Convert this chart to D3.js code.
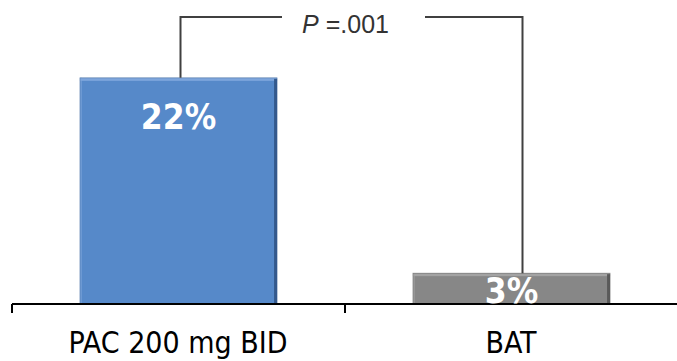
<!DOCTYPE html>
<html>
<head>
<meta charset="utf-8">
<script src="https://cdn.jsdelivr.net/npm/d3@7"></script>
<style>
  html, body { margin: 0; padding: 0; background: #fff; }
  svg { display: block; }
</style>
</head>
<body>
<svg id="chart" width="677" height="361"></svg>
<script>
// Response rates by treatment arm
const categories = ["PAC 200 mg BID", "BAT"];
const values = [22, 3];
const valueLabels = ["22%", "3%"];
const pLabel = "=.001";

const svg = d3.select("#chart");
const W = 677, H = 361;
const baseY = 304;
const labelFont = "'DejaVu Sans Condensed', Lato, 'DejaVu Sans', sans-serif";

const x = d3.scaleBand().domain(categories).range([12, 678]).paddingInner(0).paddingOuter(0);
const y = d3.scaleLinear().domain([0, 25]).range([baseY, baseY - 25 * 10.28]);

const barFrac = 0.592;
const barW = x.bandwidth() * barFrac;
const barX = d => x(d) + (x.bandwidth() - barW) / 2;

const fills = ["#5689c9", "#878787"];
const lights = ["#7ea6dc", "#a3a3a3"];
const darks = ["#34598c", "#5a5a5a"];

const bars = svg.append("g").selectAll("g").data(categories).join("g");

bars.each(function (c, i) {
  const g = d3.select(this);
  const x0 = barX(c), y0 = y(values[i]), h = baseY - y0;
  g.append("rect").attr("x", x0).attr("y", y0).attr("width", barW).attr("height", h)
    .attr("fill", fills[i]);
  // bevel: light top and left edges, dark right edge
  g.append("rect").attr("x", x0).attr("y", y0).attr("width", barW).attr("height", 3)
    .attr("fill", lights[i]);
  g.append("rect").attr("x", x0).attr("y", y0).attr("width", 2).attr("height", h)
    .attr("fill", lights[i]).attr("opacity", 0.6);
  g.append("rect").attr("x", x0 + barW - 3).attr("y", y0 + 1).attr("width", 3).attr("height", h - 1)
    .attr("fill", darks[i]);
  g.append("rect").attr("x", x0).attr("y", y0).attr("width", barW).attr("height", h)
    .attr("fill", "none").attr("stroke", darks[i]).attr("stroke-opacity", 0.5).attr("stroke-width", 0.8);
});

// Category axis along the baseline
const axis = svg.append("g").attr("transform", `translate(0,${baseY})`);
axis.append("line").attr("x1", 12).attr("x2", W).attr("y1", 0).attr("y2", 0)
  .attr("stroke", "#000").attr("stroke-width", 2);
axis.selectAll("line.tick").data(categories).join("line").attr("class", "tick")
  .attr("x1", d => x(d)).attr("x2", d => x(d)).attr("y1", 0).attr("y2", 9)
  .attr("stroke", "#000").attr("stroke-width", 2);
axis.selectAll("text").data(categories).join("text")
  .attr("x", d => x(d) + x.bandwidth() / 2 - 0.5)
  .attr("y", 49)
  .attr("text-anchor", "middle")
  .attr("font-family", labelFont)
  .attr("font-size", 30)
  .attr("fill", "#000")
  .text(d => d);

// Value labels
svg.append("g").selectAll("text").data(categories).join("text")
  .attr("x", d => x(d) + x.bandwidth() / 2)
  .attr("y", (d, i) => i === 0 ? y(values[i]) + 51 : baseY - 1)
  .attr("text-anchor", "middle")
  .attr("font-family", labelFont)
  .attr("font-weight", "bold")
  .attr("font-size", 35)
  .attr("fill", "#fff")
  .text((d, i) => valueLabels[i]);

// Significance bracket
const bx1 = x(categories[0]) + x.bandwidth() / 2 + 2;
const bx2 = x(categories[1]) + x.bandwidth() / 2 + 11;
const bTop = 17;
const gapL = 282, gapR = 425;
const bracket = svg.append("g").attr("fill", "none").attr("stroke", "#404040").attr("stroke-width", 2);
bracket.append("path").attr("d", `M${bx1},${y(values[0])} V${bTop} H${gapL}`);
bracket.append("path").attr("d", `M${gapR},${bTop} H${bx2} V${y(values[1])}`);

const pt = svg.append("text")
  .attr("x", (gapL + gapR) / 2 - 8)
  .attr("y", 33)
  .attr("text-anchor", "middle")
  .attr("font-family", "'Liberation Sans', Arial, sans-serif")
  .attr("font-size", 25)
  .attr("fill", "#333");
pt.append("tspan").attr("font-style", "italic").text("P");
pt.append("tspan").text(" " + pLabel);
</script>
</body>
</html>
